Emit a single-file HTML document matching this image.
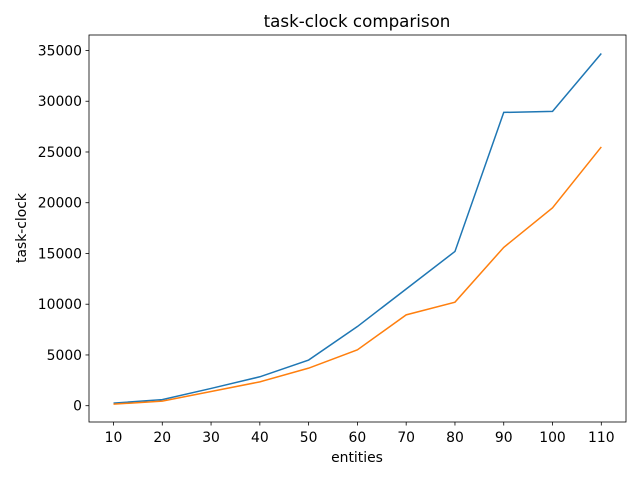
<!DOCTYPE html>
<html><head><meta charset="utf-8"><style>
body{margin:0;background:#fff;}
svg text{font-family:"DejaVu Sans","Liberation Sans",sans-serif;fill:#000;}
</style></head><body>
<svg id="chart" width="640" height="480" xmlns="http://www.w3.org/2000/svg">
<rect width="640" height="480" fill="#fff"/>
<text x="357" y="27" font-size="16.7" text-anchor="middle">task-clock comparison</text>
<text x="357" y="462" font-size="13.9" text-anchor="middle">entities</text>
<text transform="translate(26,228) rotate(-90)" font-size="13.9" text-anchor="middle">task-clock</text>
<g id="plot"></g>
</svg>
<script>
const categories=[10,20,30,40,50,60,70,80,90,100,110];
const seriesA=[250,600,1700,2850,4500,7800,11500,15200,28900,29000,34700];
const seriesB=[150,450,1400,2350,3700,5500,8950,10200,15600,19500,25500];
const yTicks=[0,5000,10000,15000,20000,25000,30000,35000];
const L=89,R=626,T=35,B=422;
function xs(v){return 113.5+(v-10)*(601.3-113.5)/100;}
function ys(v){return 405.7-v*(405.7-50.5)/35000;}
const g=document.getElementById('plot');
const NS='http://www.w3.org/2000/svg';
function mk(t,a){const e=document.createElementNS(NS,t);for(const k in a)e.setAttribute(k,a[k]);g.appendChild(e);return e;}
categories.forEach(c=>{
  const x=xs(c);
  const t=mk('line',{x1:x,x2:x,y1:B,y2:B+3.5,stroke:'#000','stroke-width':0.8});
  
  
  const l=mk('text',{x:x,y:B+20,'font-size':13.9,'text-anchor':'middle'});l.textContent=c;
  
  
});
yTicks.forEach(v=>{
  const y=ys(v);
  const t=mk('line',{x1:L-3.5,x2:L,y1:y,y2:y,stroke:'#000','stroke-width':0.8});
  
  
  const l=mk('text',{x:L-7,y:y+5,'font-size':13.9,'text-anchor':'end'});l.textContent=v;
  
  
});
function line(vals,color,name){
  const p=mk('polyline',{points:vals.map((v,i)=>xs(categories[i])+','+ys(v)).join(' '),fill:'none',stroke:color,'stroke-width':1.5});
  
  
}
line(seriesA,'#1f77b4','series-a-line');
line(seriesB,'#ff7f0e','series-b-line');
const f=mk('rect',{x:L,y:T,width:R-L,height:B-T,fill:'none',stroke:'#000','stroke-width':0.8});


</script>
</body></html>
